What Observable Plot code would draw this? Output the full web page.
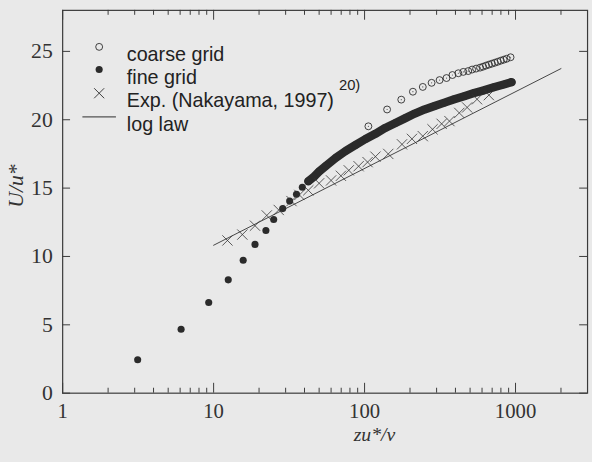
<!DOCTYPE html>
<html>
<head>
<meta charset="utf-8">
<script src="https://cdn.jsdelivr.net/npm/d3@7"></script>
<script src="https://cdn.jsdelivr.net/npm/@observablehq/plot@0.6"></script>
<style>
  html, body { margin: 0; padding: 0; background: #e9e9e9; overflow: hidden; width: 592px; height: 462px; }
  #chart svg { display: block; }
</style>
</head>
<body>
<div id="chart"></div>
<script>
// ---- data ----
const fineSparseX = [3.14, 6.09, 9.28, 12.5, 15.7, 18.8, 22.2, 25, 28.7, 31.9, 35.4, 38.7, 42.4];
const fineSparseY = [2.45, 4.68, 6.63, 8.29, 9.72, 10.88, 11.9, 12.7, 13.5, 14.05, 14.55, 15.06, 15.5];

const fineDenseX = [42.4, 46.4, 50, 55.6, 64.6, 75.1, 87.3, 101.5, 118, 137, 159, 185, 215, 250, 291, 338, 393, 457, 531, 618, 718, 835, 942];
const fineDenseY = [15.5, 15.85, 16.21, 16.64, 17.22, 17.72, 18.16, 18.59, 18.97, 19.4, 19.75, 20.1, 20.45, 20.75, 21.0, 21.25, 21.5, 21.72, 21.95, 22.15, 22.38, 22.58, 22.75];

const coarseX = [106, 141, 175, 209, 243, 278, 314, 349, 382, 418, 451, 486, 516, 548, 582, 609, 637, 666, 697, 729, 762, 798, 835, 873, 927];
const coarseY = [19.52, 20.75, 21.47, 22.05, 22.4, 22.7, 22.9, 23.05, 23.27, 23.4, 23.5, 23.56, 23.67, 23.74, 23.81, 23.88, 23.96, 24.03, 24.1, 24.17, 24.24, 24.32, 24.39, 24.46, 24.57];

const expX = [12.35, 15.5, 18.8, 22.5, 27, 32.8, 37, 42.4, 50, 60, 69.7, 78.6, 91.3, 104.7, 118, 143.5, 177, 206, 243, 282, 324, 365, 424, 478, 556, 666];
const expY = [11.17, 11.6, 12.25, 13.0, 13.4, 14.05, 14.5, 14.84, 15.35, 15.56, 15.9, 16.3, 16.6, 16.9, 17.3, 17.5, 18.2, 18.6, 18.8, 19.3, 19.7, 19.9, 20.5, 20.9, 21.5, 21.8];

const logLawX = [10, 2000];
const logLawY = [10.82, 23.74];

const xMajor = [1, 10, 100, 1000];
const xMajorLabels = ["1", "10", "100", "1000"];
const xMinor = [2, 3, 4, 5, 6, 7, 8, 9, 20, 30, 40, 50, 60, 70, 80, 90, 200, 300, 400, 500, 600, 700, 800, 900, 2000];
const yTicks = [0, 5, 10, 15, 20, 25];
const yTickLabels = ["0", "5", "10", "15", "20", "25"];

const legendLabels = ["coarse grid", "fine grid", "Exp. (Nakayama, 1997)", "log law"];
const legendRef = "20)";
const xTitle = "zu*/ν";
const yTitle = "U/u*";

// ---- build tables ----
const fineSparse = fineSparseX.map((x, i) => ({x, y: fineSparseY[i]}));
const fineDense = fineDenseX.map((x, i) => ({x, y: fineDenseY[i]}));
const coarse = coarseX.map((x, i) => ({x, y: coarseY[i]}));
const exp = expX.map((x, i) => ({x, y: expY[i]}));
const logLaw = logLawX.map((x, i) => ({x, y: logLawY[i]}));

// ---- layout ----
const W = 600, H = 462, mL = 63, mT = 10, mR = 5, mB = 64;
const plotW = W - mL - mR, plotH = H - mT - mB;
const ink = "#2b2b2b", axisInk = "#3a3a3a";
const serif = "'Liberation Serif', 'Times New Roman', serif";
const sans = "'Liberation Sans', Arial, sans-serif";

const hLine = {draw(ctx) { ctx.moveTo(-17, 0); ctx.lineTo(17, 0); }};

const legendMarks = [];
const rowDy = [37, 60, 84, 108];
legendLabels.forEach((t, i) => {
  legendMarks.push(Plot.text([t], {text: d => d, frameAnchor: "top-left", dx: 65, dy: rowDy[i], textAnchor: "start",
    fontFamily: sans, fontSize: 20, fill: "#222"}));
});
legendMarks.push(Plot.text([legendRef], {text: d => d, frameAnchor: "top-left", dx: 280, dy: 70, textAnchor: "start",
  fontFamily: sans, fontSize: 15, fill: "#222"}));
legendMarks.push(Plot.dot([0], {frameAnchor: "top-left", dx: 37, dy: rowDy[0], r: 3.5, stroke: ink, strokeWidth: 0.9, fill: "none"}));
legendMarks.push(Plot.dot([0], {frameAnchor: "top-left", dx: 37, dy: rowDy[1], r: 3.6, fill: ink}));
legendMarks.push(Plot.dot([0], {frameAnchor: "top-left", dx: 37, dy: rowDy[2], r: 4.7, symbol: "times", stroke: ink, strokeWidth: 0.9}));
legendMarks.push(Plot.dot([0], {frameAnchor: "top-left", dx: 37, dy: rowDy[3], r: 4, symbol: hLine, stroke: ink, strokeWidth: 1, fill: "none"}));

const chart = Plot.plot({
  width: W, height: H,
  marginLeft: mL, marginTop: mT, marginRight: mR, marginBottom: mB,
  style: {background: "transparent", overflow: "visible"},
  x: {type: "log", domain: [1, 3000], axis: null},
  y: {domain: [0, 28], axis: null},
  marks: [
    // data
    Plot.line(logLaw, {x: "x", y: "y", stroke: "#333", strokeWidth: 0.9}),
    Plot.line(fineDense, {x: "x", y: "y", stroke: ink, strokeWidth: 8.5, strokeLinecap: "round", strokeLinejoin: "round"}),
    Plot.dot(fineDense, {x: "x", y: "y", r: 3.8, fill: ink}),
    Plot.dot(fineSparse, {x: "x", y: "y", r: 3.6, fill: ink}),
    Plot.dot(coarse, {x: "x", y: "y", r: 3.5, stroke: ink, strokeWidth: 0.9, fill: "none"}),
    Plot.dot(coarse, {x: "x", y: "y", r: 0.6, fill: "#555"}),
    Plot.dot(exp, {x: "x", y: "y", r: 4.8, symbol: "times", stroke: "#333", strokeWidth: 0.8}),
    // frame and ticks
    Plot.frame({stroke: axisInk, strokeWidth: 1.2}),
    Plot.tickX(xMajor, {x: d => d, insetTop: plotH - 10, stroke: axisInk}),
    Plot.tickX(xMinor, {x: d => d, insetTop: plotH - 5, stroke: axisInk}),
    Plot.tickX(xMajor, {x: d => d, insetBottom: plotH - 10, stroke: axisInk}),
    Plot.tickX(xMinor, {x: d => d, insetBottom: plotH - 5, stroke: axisInk}),
    Plot.tickY(yTicks, {y: d => d, insetRight: plotW - 8, stroke: axisInk}),
    Plot.tickY(yTicks, {y: d => d, insetLeft: plotW - 8, stroke: axisInk}),
    // tick labels
    Plot.text(xMajor, {x: d => d, text: (d, i) => xMajorLabels[i], frameAnchor: "bottom", dy: 25,
      fontFamily: serif, fontSize: 21, fill: "#333"}),
    Plot.text(yTicks, {y: d => d, text: (d, i) => yTickLabels[i], frameAnchor: "left", dx: -10, textAnchor: "end",
      fontFamily: serif, fontSize: 22, fill: "#333"}),
    // titles
    Plot.text([xTitle], {text: d => d, frameAnchor: "bottom", dx: 50, dy: 48,
      fontFamily: serif, fontStyle: "italic", fontSize: 20, fill: "#333"}),
    Plot.text([yTitle], {text: d => d, frameAnchor: "left", dx: -47, dy: 6, rotate: -90,
      fontFamily: serif, fontStyle: "italic", fontSize: 22, fill: "#333"}),
    ...legendMarks
  ]
});
document.getElementById("chart").appendChild(chart);
</script>
</body>
</html>
